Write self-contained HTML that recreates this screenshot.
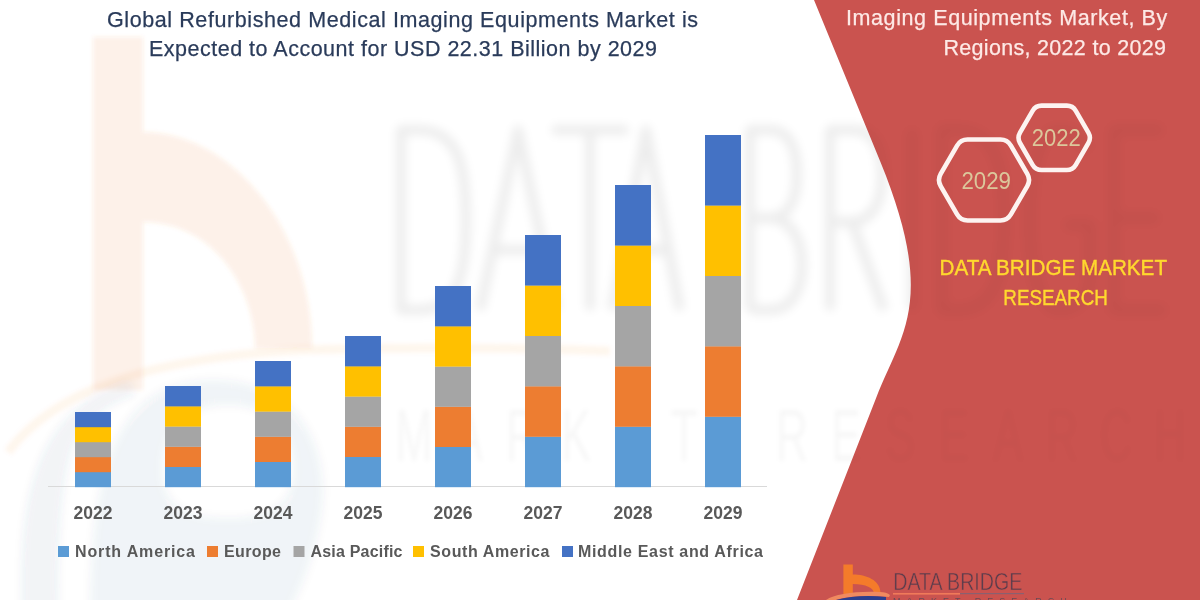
<!DOCTYPE html>
<html><head><meta charset="utf-8">
<style>
html,body{margin:0;padding:0;width:1200px;height:600px;overflow:hidden;background:#fff;}
svg{display:block;font-family:"Liberation Sans",sans-serif;}
</style></head><body>
<svg width="1200" height="600" viewBox="0 0 1200 600">
<defs><filter id="bl" x="-10%" y="-10%" width="120%" height="120%"><feGaussianBlur stdDeviation="2.2"/></filter><filter id="bl2" x="-10%" y="-10%" width="120%" height="120%"><feGaussianBlur stdDeviation="4"/></filter><mask id="mk" maskUnits="userSpaceOnUse" x="0" y="0" width="1200" height="600"><rect width="1200" height="600" fill="#fff"/><path d="M814,0 L880.35,161.83 C938.74,304.24 899.31,335.73 876.01,398.36 L797,600 L1200,600 L1200,0 Z" fill="#777"/></mask></defs>
<rect width="1200" height="600" fill="#ffffff"/>
<!-- red shape -->
<path d="M814,0 L880.35,161.83 C938.74,304.24 899.31,335.73 876.01,398.36 L797,600 L1200,600 L1200,0 Z" fill="#ca534f"/>
<!-- watermark logo -->
<g filter="url(#bl)" mask="url(#mk)">
  <path d="M93,37 H143 V132 C230,132 312,228 312,348 H255 C255,290 215,222 143,222 V390 H93 Z" fill="#ED7D31" opacity="0.11"/>
  <path d="M90,640 C88,480 110,385 205,380 C300,375 330,450 322,510 C314,570 290,610 275,640 Z M163,470 C163,430 185,405 228,405 C272,405 293,435 293,470 C293,505 270,518 228,518 C185,518 163,505 163,470 Z" fill="#3d5a80" fill-rule="evenodd" opacity="0.06" filter="url(#bl2)"/>
  <path d="M22,640 L22,600 C20,520 30,455 70,415 C90,395 110,385 130,380 L135,395 C110,402 90,418 75,440 C62,470 58,530 58,600 L58,640 Z" fill="#3d5a80" opacity="0.07" filter="url(#bl2)"/>
  <path d="M8,452 C55,390 150,358 300,350 C420,346 520,348 610,351" fill="none" stroke="#ED7D31" stroke-width="9" opacity="0.07"/>
  <path d="M401,130 V310 H418 C458,310 466,275 466,220 C466,165 458,130 418,130 Z M480,310 L518,130 L556,310 M492,250 H544 M552,130 H628 M590,130 V310 M612,310 L646,130 L680,310 M622,250 H670 M750,310 V130 H770 C790,130 797,150 797,175 C797,205 785,218 768,218 H750 M768,218 C790,218 802,238 802,265 C802,292 790,310 770,310 H750 M830,310 V130 H853 C875,130 882,150 882,177 C882,205 870,222 850,222 H830 M852,222 L884,310 M912,130 V310 M942,130 V310 H958 C995,310 1004,275 1004,220 C1004,165 995,130 958,130 Z M1088,150 C1080,136 1070,130 1060,130 C1040,130 1030,165 1030,220 C1030,275 1040,310 1060,310 C1078,310 1090,295 1090,280 V225 H1065 M1162,130 H1114 V310 H1165 M1114,218 H1158" fill="none" stroke="#000" stroke-width="10" stroke-linejoin="round" opacity="0.07" filter="url(#bl2)"/>
  <g font-size="74" fill="#000" opacity="0.03"><text x="0" y="0" transform="translate(414,461) scale(0.6,1)" text-anchor="middle">M</text><text x="0" y="0" transform="translate(468,461) scale(0.6,1)" text-anchor="middle">A</text><text x="0" y="0" transform="translate(522,461) scale(0.6,1)" text-anchor="middle">R</text><text x="0" y="0" transform="translate(576,461) scale(0.6,1)" text-anchor="middle">K</text><text x="0" y="0" transform="translate(630,461) scale(0.6,1)" text-anchor="middle">E</text><text x="0" y="0" transform="translate(684,461) scale(0.6,1)" text-anchor="middle">T</text><text x="0" y="0" transform="translate(792,461) scale(0.6,1)" text-anchor="middle">R</text><text x="0" y="0" transform="translate(846,461) scale(0.6,1)" text-anchor="middle">E</text><text x="0" y="0" transform="translate(900,461) scale(0.6,1)" text-anchor="middle">S</text><text x="0" y="0" transform="translate(954,461) scale(0.6,1)" text-anchor="middle">E</text><text x="0" y="0" transform="translate(1008,461) scale(0.6,1)" text-anchor="middle">A</text><text x="0" y="0" transform="translate(1062,461) scale(0.6,1)" text-anchor="middle">R</text><text x="0" y="0" transform="translate(1116,461) scale(0.6,1)" text-anchor="middle">C</text><text x="0" y="0" transform="translate(1170,461) scale(0.6,1)" text-anchor="middle">H</text></g>
</g>
<!-- chart -->
<line x1="48" y1="486.5" x2="767" y2="486.5" stroke="#d9d9d9" stroke-width="1"/>
<rect x="75" y="472.0" width="36" height="15.2" fill="#5B9BD5"/><rect x="75" y="457.0" width="36" height="15.2" fill="#ED7D31"/><rect x="75" y="442.0" width="36" height="15.2" fill="#A5A5A5"/><rect x="75" y="427.0" width="36" height="15.2" fill="#FFC000"/><rect x="75" y="412.0" width="36" height="15.2" fill="#4472C4"/><rect x="165" y="466.8" width="36" height="20.4" fill="#5B9BD5"/><rect x="165" y="446.6" width="36" height="20.4" fill="#ED7D31"/><rect x="165" y="426.4" width="36" height="20.4" fill="#A5A5A5"/><rect x="165" y="406.2" width="36" height="20.4" fill="#FFC000"/><rect x="165" y="386.0" width="36" height="20.4" fill="#4472C4"/><rect x="255" y="461.8" width="36" height="25.4" fill="#5B9BD5"/><rect x="255" y="436.6" width="36" height="25.4" fill="#ED7D31"/><rect x="255" y="411.4" width="36" height="25.4" fill="#A5A5A5"/><rect x="255" y="386.2" width="36" height="25.4" fill="#FFC000"/><rect x="255" y="361.0" width="36" height="25.4" fill="#4472C4"/><rect x="345" y="456.8" width="36" height="30.4" fill="#5B9BD5"/><rect x="345" y="426.6" width="36" height="30.4" fill="#ED7D31"/><rect x="345" y="396.4" width="36" height="30.4" fill="#A5A5A5"/><rect x="345" y="366.2" width="36" height="30.4" fill="#FFC000"/><rect x="345" y="336.0" width="36" height="30.4" fill="#4472C4"/><rect x="435" y="446.8" width="36" height="40.4" fill="#5B9BD5"/><rect x="435" y="406.6" width="36" height="40.4" fill="#ED7D31"/><rect x="435" y="366.4" width="36" height="40.4" fill="#A5A5A5"/><rect x="435" y="326.2" width="36" height="40.4" fill="#FFC000"/><rect x="435" y="286.0" width="36" height="40.4" fill="#4472C4"/><rect x="525" y="436.6" width="36" height="50.6" fill="#5B9BD5"/><rect x="525" y="386.2" width="36" height="50.6" fill="#ED7D31"/><rect x="525" y="335.8" width="36" height="50.6" fill="#A5A5A5"/><rect x="525" y="285.4" width="36" height="50.6" fill="#FFC000"/><rect x="525" y="235.0" width="36" height="50.6" fill="#4472C4"/><rect x="615" y="426.6" width="36" height="60.6" fill="#5B9BD5"/><rect x="615" y="366.2" width="36" height="60.6" fill="#ED7D31"/><rect x="615" y="305.8" width="36" height="60.6" fill="#A5A5A5"/><rect x="615" y="245.4" width="36" height="60.6" fill="#FFC000"/><rect x="615" y="185.0" width="36" height="60.6" fill="#4472C4"/><rect x="705" y="416.6" width="36" height="70.6" fill="#5B9BD5"/><rect x="705" y="346.2" width="36" height="70.6" fill="#ED7D31"/><rect x="705" y="275.8" width="36" height="70.6" fill="#A5A5A5"/><rect x="705" y="205.4" width="36" height="70.6" fill="#FFC000"/><rect x="705" y="135.0" width="36" height="70.6" fill="#4472C4"/>
<g font-weight="700" font-size="17.5" fill="#595959"><text x="93" y="518.8" text-anchor="middle">2022</text><text x="183" y="518.8" text-anchor="middle">2023</text><text x="273" y="518.8" text-anchor="middle">2024</text><text x="363" y="518.8" text-anchor="middle">2025</text><text x="453" y="518.8" text-anchor="middle">2026</text><text x="543" y="518.8" text-anchor="middle">2027</text><text x="633" y="518.8" text-anchor="middle">2028</text><text x="723" y="518.8" text-anchor="middle">2029</text></g>
<!-- legend -->
<g font-weight="700" font-size="16" fill="#595959">
<rect x="58" y="546" width="11" height="11" fill="#5B9BD5"/><text x="75" y="556.5" textLength="120" lengthAdjust="spacing">North America</text>
<rect x="207" y="546" width="11" height="11" fill="#ED7D31"/><text x="224" y="556.5" textLength="57" lengthAdjust="spacing">Europe</text>
<rect x="293.5" y="546" width="11" height="11" fill="#A5A5A5"/><text x="310.5" y="556.5" textLength="92" lengthAdjust="spacing">Asia Pacific</text>
<rect x="413" y="546" width="11" height="11" fill="#FFC000"/><text x="430" y="556.5" textLength="119.5" lengthAdjust="spacing">South America</text>
<rect x="562" y="546" width="11" height="11" fill="#4472C4"/><text x="578" y="556.5" textLength="185" lengthAdjust="spacing">Middle East and Africa</text>
</g>
<!-- title -->
<g font-size="21.5" fill="#2a3b5a" stroke="#2a3b5a" stroke-width="0.25">
<text x="107" y="26.5" textLength="591" lengthAdjust="spacing">Global Refurbished Medical Imaging Equipments Market is</text>
<text x="149" y="56" textLength="508" lengthAdjust="spacing">Expected to Account for USD 22.31 Billion by 2029</text>
</g>
<!-- right header -->
<g font-size="21.5" fill="#fde9e6" stroke="#fde9e6" stroke-width="0.25">
<text x="846" y="25" textLength="321.3" lengthAdjust="spacing">Imaging Equipments Market, By</text>
<text x="943.5" y="54.7" textLength="222.5" lengthAdjust="spacing">Regions, 2022 to 2029</text>
</g>
<!-- hexagons -->
<g fill="none" stroke="#fdf3f1" stroke-width="4.6">
<path d="M1027.30,173.94 Q1030.80,180.00 1027.30,186.06 L1010.90,214.47 Q1007.40,220.53 1000.40,220.53 L967.60,220.53 Q960.60,220.53 957.10,214.47 L940.70,186.06 Q937.20,180.00 940.70,173.94 L957.10,145.53 Q960.60,139.47 967.60,139.47 L1000.40,139.47 Q1007.40,139.47 1010.90,145.53 Z"/>
<path d="M1088.40,132.60 Q1091.40,137.80 1088.40,143.00 L1075.80,164.82 Q1072.80,170.02 1066.80,170.02 L1041.60,170.02 Q1035.60,170.02 1032.60,164.82 L1020.00,143.00 Q1017.00,137.80 1020.00,132.60 L1032.60,110.78 Q1035.60,105.58 1041.60,105.58 L1066.80,105.58 Q1072.80,105.58 1075.80,110.78 Z"/>
</g>
<g font-size="23" fill="#dcc79b">
<text x="961.5" y="188.8" textLength="49.5" lengthAdjust="spacingAndGlyphs">2029</text>
<text x="1031.7" y="145.5" textLength="49" lengthAdjust="spacingAndGlyphs">2022</text>
</g>
<g font-size="21.5" fill="#ffd92e" stroke="#ffd92e" stroke-width="0.4">
<text x="939.5" y="275.3" textLength="227.5" lengthAdjust="spacingAndGlyphs">DATA BRIDGE MARKET</text>
<text x="1003.3" y="305.4" textLength="104.5" lengthAdjust="spacingAndGlyphs">RESEARCH</text>
</g>
<!-- bottom logo -->
<g>
  <path d="M843.4,564.4 H852.8 V574.5 C866,574.5 880.5,580 880.5,593 H873.8 C873.8,588 866,584 852.8,584 V594 H843.4 Z" fill="#F47B2A"/>
  <path d="M826,600 C835,594 855,591 880,592 C884,592 888,593 890,595 L889,597 C870,595 848,596 836,600 Z" fill="#f08a60"/>
  <path d="M836,600 C850,596 868,595 886,597 L886,600 Z" fill="#2b3f8f"/>
  <text x="893.3" y="590.3" font-size="24" fill="#5c3d4c" stroke="#ca534f" stroke-width="0.45" textLength="129" lengthAdjust="spacingAndGlyphs">DATA BRIDGE</text>
  <rect x="893" y="593" width="67" height="1.6" fill="#f07a5a"/>
  <rect x="960" y="593" width="64" height="1.2" fill="#8a6070"/>
  <text x="893" y="604" font-size="9" fill="#6a4a55" letter-spacing="6">MARKET RESEARCH</text>
</g>
</svg>
</body></html>
